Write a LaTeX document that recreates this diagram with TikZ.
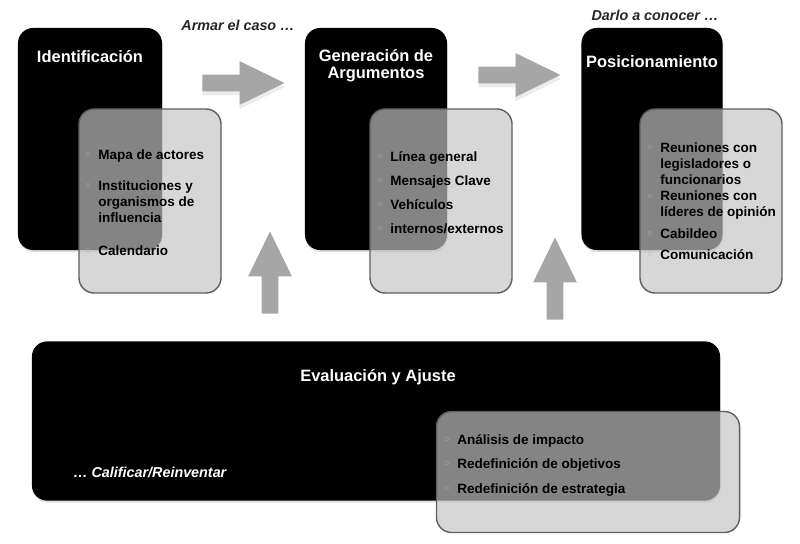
\documentclass[tikz,border=0pt]{standalone}
\usepackage{fontspec}
\setmainfont{Liberation Sans}
\newfontfamily\symfont{DejaVu Sans}
\usetikzlibrary{shapes.arrows,shadows}

\definecolor{arrowgray}{HTML}{A6A6A6}
\definecolor{panelgray}{HTML}{C4C4C4}
\definecolor{rimgray}{HTML}{5E5E5E}
\definecolor{dotgray}{HTML}{B4B4B4}
\newcommand{\dotitem}{\llap{\raisebox{0.5pt}{\symfont\fontsize{7.5}{7.5}\selectfont\textcolor{dotgray}{◦}}\hspace{5pt}}}

\begin{document}
\begin{tikzpicture}[
        x=0.025cm, y=-0.025cm,
        darkbox/.style={
            rectangle,
            rounded corners=0.38cm,
            fill=black,
            drop shadow={shadow xshift=0.5pt, shadow yshift=-1.5pt, opacity=0.25}
        },
        listbox/.style={
            rectangle,
            rounded corners=0.38cm,
            draw=rimgray,
            line width=1pt,
            fill=panelgray,
            fill opacity=0.68
        },
        title/.style={
            text=white,
            align=center,
            inner sep=0pt,
            font=\bfseries\fontsize{11.7}{12.2}\selectfont
        },
        items/.style={
            anchor=north west,
            align=left,
            inner sep=0pt,
            font=\bfseries\fontsize{9.6}{11.4}\selectfont
        },
        remark/.style={
            inner sep=0pt,
            font=\bfseries\itshape\fontsize{10.2}{12}\selectfont
        },
        blockarrow/.style={
            single arrow,
            fill=arrowgray,
            single arrow head extend=0.34cm,
            single arrow tip angle=52,
            inner xsep=0pt,
            inner ysep=0.2cm,
            minimum height=2.05cm
        },
        arrowshade/.style={
            drop shadow={shadow xshift=0pt, shadow yshift=-3pt, opacity=0.15}
        }
    ]

        \useasboundingbox (0,0) rectangle (800,544);

        \node[blockarrow, arrowshade] (arrowa) at (235,83) {};
        \node[blockarrow, arrowshade] (arrowb) at (511,75) {};
        \node[blockarrow, rotate=90] (arrowc) at (270,281) {};
        \node[blockarrow, rotate=90] (arrowd) at (555,287) {};

        \node[darkbox, minimum width=3.6cm, minimum height=5.55cm] (idbox) at (90,139) {};
        \node[darkbox, minimum width=3.55cm, minimum height=5.55cm] (genbox) at (376,139) {};
        \node[darkbox, minimum width=3.525cm, minimum height=5.55cm] (posbox) at (652,139) {};
        \node[darkbox, minimum width=17.2cm, minimum height=3.98cm] (evalbox) at (376,421) {};

        \node[listbox, minimum width=3.55cm, minimum height=4.6cm] (idlist) at (150,201) {};
        \node[listbox, minimum width=3.55cm, minimum height=4.6cm] (genlist) at (441,201) {};
        \node[listbox, minimum width=3.55cm, minimum height=4.6cm] (poslist) at (711,201) {};
        \node[listbox, minimum width=7.575cm, minimum height=3.025cm] (evallist) at (588,472) {};

        \node[title] (idtitle) at (90,57) {Identificación};
        \node[title] (gentitle) at (376,66) {Generación de\\Argumentos};
        \node[title] (postitle) at (652,62) {Posicionamiento};
        \node[title] (evaltitle) at (378,377) {Evaluación y Ajuste};

        \node[items] (iditems) at (98,149) {\dotitem Mapa de actores\\[11pt]
            \dotitem Instituciones y\\organismos de\\influencia\\[12pt]
            \dotitem Calendario};
        \node[items] (genitems) at (390,151) {\dotitem Línea general\\[5.7pt]
            \dotitem Mensajes Clave\\[5.7pt]
            \dotitem Vehículos\\[5.7pt]
            \dotitem internos/externos};
        \node[items] (positems) at (660,142) {\dotitem Reuniones con\\legisladores o\\funcionarios\\[0.5pt]
            \dotitem Reuniones con\\líderes de opinión\\[4pt]
            \dotitem Cabildeo\\[3.5pt]
            \dotitem Comunicación};
        \node[items] (evalitems) at (457,434) {\dotitem Análisis de impacto\\[6pt]
            \dotitem Redefinición de objetivos\\[6pt]
            \dotitem Redefinición de estrategia};

        \node[remark, text=black!85] (armar) at (238,25) {Armar el caso …};
        \node[remark, text=black!85] (darlo) at (655,15) {Darlo a conocer …};
        \node[remark, text=white, anchor=west] (calificar) at (73,472) {… Calificar/Reinventar};

    \end{tikzpicture}
\end{document}
